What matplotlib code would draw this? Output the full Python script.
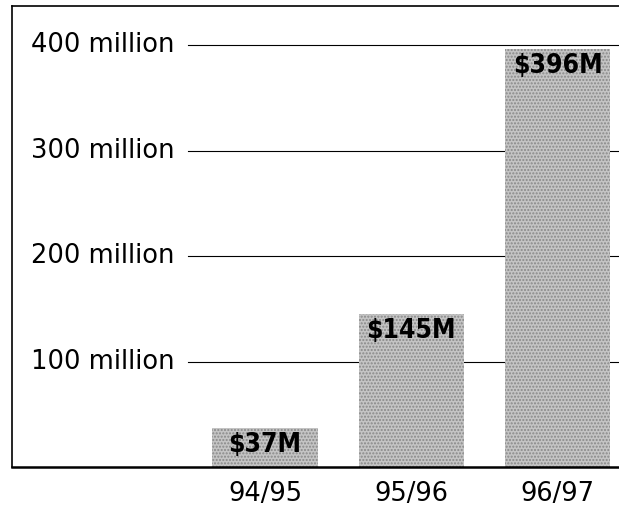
import matplotlib.pyplot as plt

years = ['94/95', '95/96', '96/97']
values = [37, 145, 396]
bar_labels = ['$37M', '$145M', '$396M']
grid_values = [100, 200, 300, 400]
grid_labels = ['100 million', '200 million', '300 million', '400 million']

fig = plt.figure(figsize=(6.19, 5.17), dpi=100)
ax = fig.add_axes([12 / 619, 50 / 517, 607 / 619, 461 / 517])

x = list(range(len(years)))

for v, lab in zip(grid_values, grid_labels):
    ax.plot([-0.53, 2.5], [v, v], color='black', lw=0.8, zorder=1)
    ax.text(-1.6, v, lab, ha='left', va='center', fontsize=18.5,
            family='DejaVu Sans')

ax.bar(x, values, width=0.72, color='#c4c4c4', hatch='.....',
       edgecolor='#888888', linewidth=0, zorder=2)

for xi, v, lab in zip(x, values, bar_labels):
    ax.annotate(lab, (xi, v), xytext=(0, -3), textcoords='offset points',
                ha='center', va='top', fontsize=19, fontweight='heavy',
                fontstretch='condensed', family='DejaVu Sans', zorder=3)

ax.set_xlim(-1.73, 2.42)
ax.set_ylim(0, 437)
ax.set_xticks(x)
ax.set_xticklabels(years, fontsize=18.5, family='DejaVu Sans')
ax.tick_params(axis='x', length=0, pad=10)
ax.set_yticks([])

ax.spines['right'].set_visible(False)
ax.spines['left'].set_linewidth(1.2)
ax.spines['top'].set_linewidth(1.2)
ax.spines['bottom'].set_linewidth(1.8)

plt.savefig('out.png', dpi=100)
